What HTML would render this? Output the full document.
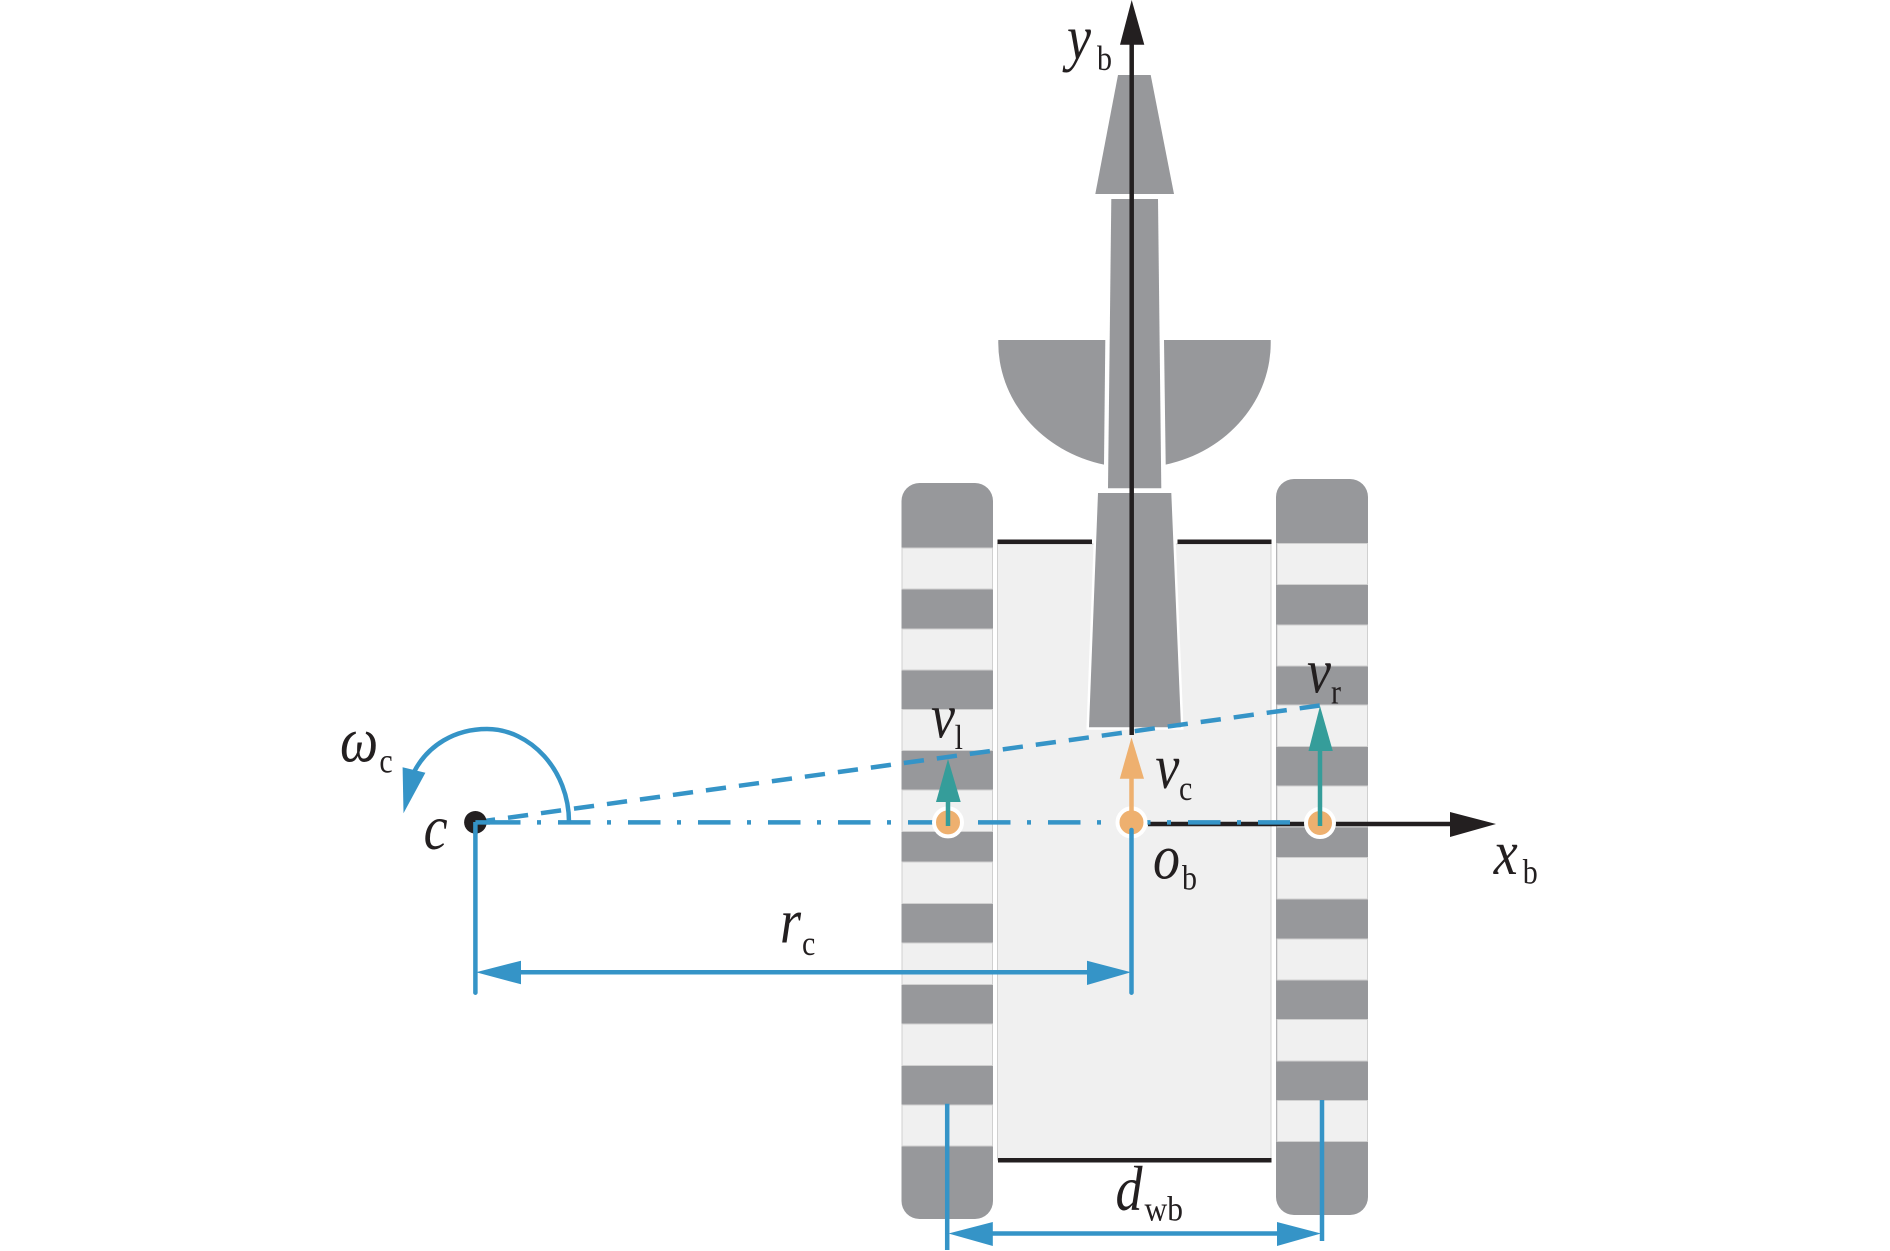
<!DOCTYPE html>
<html><head><meta charset="utf-8"><style>
html,body{margin:0;padding:0;background:#fff}
svg{display:block}
.i{font:italic 54px "Liberation Serif",serif;fill:#231f20}
.s{font:30px "Liberation Serif",serif;fill:#231f20}
</style></head><body>
<svg width="1890" height="1251" viewBox="0 0 1890 1251" xmlns="http://www.w3.org/2000/svg">
<rect width="1890" height="1251" fill="#fff"/>
<!-- body -->
<rect x="997.5" y="544" width="273.5" height="616" fill="#f0f0f0" stroke="#d0d0d0" stroke-width="1"/>
<rect x="997.5" y="539.5" width="94.5" height="4.5" fill="#231f20"/>
<rect x="1177.5" y="539.5" width="94" height="4.5" fill="#231f20"/>
<rect x="998" y="1158" width="273.5" height="4.5" fill="#231f20"/>
<!-- left track -->
<rect x="901.5" y="483" width="91.5" height="736" rx="18" fill="#97989b"/>
<g fill="#f0f0f0" stroke="#d0d0d0" stroke-width="1">
<rect x="902" y="548" width="90.5" height="41"/>
<rect x="902" y="629" width="90.5" height="41"/>
<rect x="902" y="709.5" width="90.5" height="41"/>
<rect x="902" y="790" width="90.5" height="41.5"/>
<rect x="902" y="862" width="90.5" height="41.5"/>
<rect x="902" y="943" width="90.5" height="41.5"/>
<rect x="902" y="1024" width="90.5" height="41.5"/>
<rect x="902" y="1105" width="90.5" height="41"/>
</g>
<!-- right track -->
<rect x="1276" y="479" width="92" height="736" rx="18" fill="#97989b"/>
<g fill="#f0f0f0" stroke="#d0d0d0" stroke-width="1">
<rect x="1277" y="543.5" width="90.5" height="41"/>
<rect x="1277" y="625" width="90.5" height="41"/>
<rect x="1277" y="705" width="90.5" height="41.5"/>
<rect x="1277" y="786" width="90.5" height="41"/>
<rect x="1277" y="857.5" width="90.5" height="41.5"/>
<rect x="1277" y="939" width="90.5" height="41"/>
<rect x="1277" y="1019.5" width="90.5" height="41.5"/>
<rect x="1277" y="1100.5" width="90.5" height="41"/>
</g>
<!-- tractor -->
<g fill="#97989b">
<polygon points="1118,75 1150.7,75 1174,194 1095.3,194"/>
<polygon points="1111.3,199 1158,199 1161.3,488.3 1108,488.3"/>
<path d="M998.3,340 H1105.3 L1104,464.6 A136,125 0 0 1 998.3,340Z"/>
<path d="M1164,340 H1270.7 A136,125 0 0 1 1165.7,464.6Z"/>
<polygon points="1098,493 1171.3,493 1181,727.3 1089,727.3" stroke="#fff" stroke-width="5" paint-order="stroke"/>
</g>
<!-- axes -->
<line x1="1131.7" y1="40" x2="1131.7" y2="735" stroke="#231f20" stroke-width="4.5"/>
<polygon points="1131.7,0 1144.3,44.7 1120,44.7" fill="#231f20"/>
<line x1="1148" y1="824" x2="1455" y2="824" stroke="#231f20" stroke-width="4.5"/>
<polygon points="1496,824 1450,812 1450,837" fill="#231f20"/>
<!-- blue lines -->
<g fill="none" stroke="#3594c7">
<line x1="475" y1="822.3" x2="1320" y2="705.5" stroke-width="4.5" stroke-dasharray="20.3 13"/>
<line x1="475" y1="822.4" x2="490" y2="822.4" stroke-width="4.5"/>
<line x1="488" y1="822.4" x2="1290" y2="822.4" stroke-width="4.5" stroke-dasharray="32.5 16.5 4 17"/>
<path d="M569,822 C569,770 530,729 487,729 C455,729 428,745 414,772" stroke-width="4.5"/>
<line x1="475.4" y1="822" x2="475.4" y2="992.7" stroke-width="4.5" stroke-linecap="round"/>
<line x1="500" y1="972.3" x2="1100" y2="972.3" stroke-width="4.5"/>
<line x1="947.2" y1="1103.7" x2="947.2" y2="1250" stroke-width="4.5"/>
<line x1="1322" y1="1100" x2="1322" y2="1241" stroke-width="4.5"/>
<line x1="970" y1="1233.5" x2="1300" y2="1233.5" stroke-width="4.5"/>
</g>
<g fill="#3594c7">
<polygon points="403.5,813.3 402.6,767.3 425.4,772.7"/>
<polygon points="476,972.3 521,960.7 521,984.3"/>
<polygon points="1131,972.3 1087,960.7 1087,985"/>
<polygon points="948.5,1233.5 992.8,1222 992.8,1246"/>
<polygon points="1321,1233.5 1277,1222 1277,1246"/>
</g>
<circle cx="475.4" cy="822.3" r="11.3" fill="#231f20"/>
<g fill="none" stroke="#3594c7" stroke-width="4.5">
<line x1="475.4" y1="822.4" x2="488" y2="822.4"/>
<line x1="475.4" y1="822" x2="475.4" y2="834"/>
</g>
<!-- nodes -->
<g fill="#eeb06f" stroke="#fff" stroke-width="4">
<circle cx="948" cy="822.4" r="14"/>
<circle cx="1131.5" cy="822.4" r="14"/>
<circle cx="1320" cy="823" r="14"/>
</g>
<line x1="1131.5" y1="830" x2="1131.5" y2="992.7" stroke="#3594c7" stroke-width="4.5" stroke-linecap="round"/>
<!-- velocity arrows -->
<g stroke-width="4.5">
<line x1="948" y1="826" x2="948" y2="795" stroke="#359d9a"/>
<line x1="1320" y1="826" x2="1320" y2="745" stroke="#359d9a"/>
<line x1="1131.5" y1="822" x2="1131.5" y2="772" stroke="#eeb06f"/>
</g>
<polygon points="948,759 960.7,802 936,802" fill="#359d9a"/>
<polygon points="1320,706 1332.8,751 1308.5,751" fill="#359d9a"/>
<polygon points="1131.5,737.4 1144,778.7 1119.8,778.7" fill="#eeb06f"/>
<!-- labels -->
<text class="i" transform="translate(1067,59) scale(1,1.17)">y</text><text class="s" transform="translate(1097,70) scale(1,1.17)">b</text>
<text class="i" transform="translate(1307,692.6) scale(1,1.17)">v</text><text class="s" transform="translate(1331,703.5) scale(1,1.17)">r</text>
<text class="i" transform="translate(931,737.4) scale(1,1.17)">v</text><text class="s" transform="translate(954.6,749) scale(1,1.17)">l</text>
<text class="i" transform="translate(1155.4,788) scale(1,1.17)">v</text><text class="s" transform="translate(1179,800) scale(1,1.17)">c</text>
<text class="i" transform="translate(1153,878.5) scale(1,1.17)">o</text><text class="s" transform="translate(1182,889.4) scale(1,1.17)">b</text>
<text class="i" transform="translate(1493.7,873.8) scale(1,1.17)">x</text><text class="s" transform="translate(1522.7,883.6) scale(1,1.17)">b</text>
<text class="i" transform="translate(1115.5,1210) scale(1,1.17)">d</text><text class="s" transform="translate(1144.5,1220.6) scale(1.05,1.17)">wb</text>
<text class="i" transform="translate(340,761.7) scale(1,1.17)">ω</text><text class="s" transform="translate(379.4,772.7) scale(1,1.17)">c</text>
<text class="i" transform="translate(423.6,849) scale(1,1.17)">c</text>
<text class="i" transform="translate(780,942.7) scale(1,1.17)">r</text><text class="s" transform="translate(802,955) scale(1,1.17)">c</text>
</svg>
</body></html>
